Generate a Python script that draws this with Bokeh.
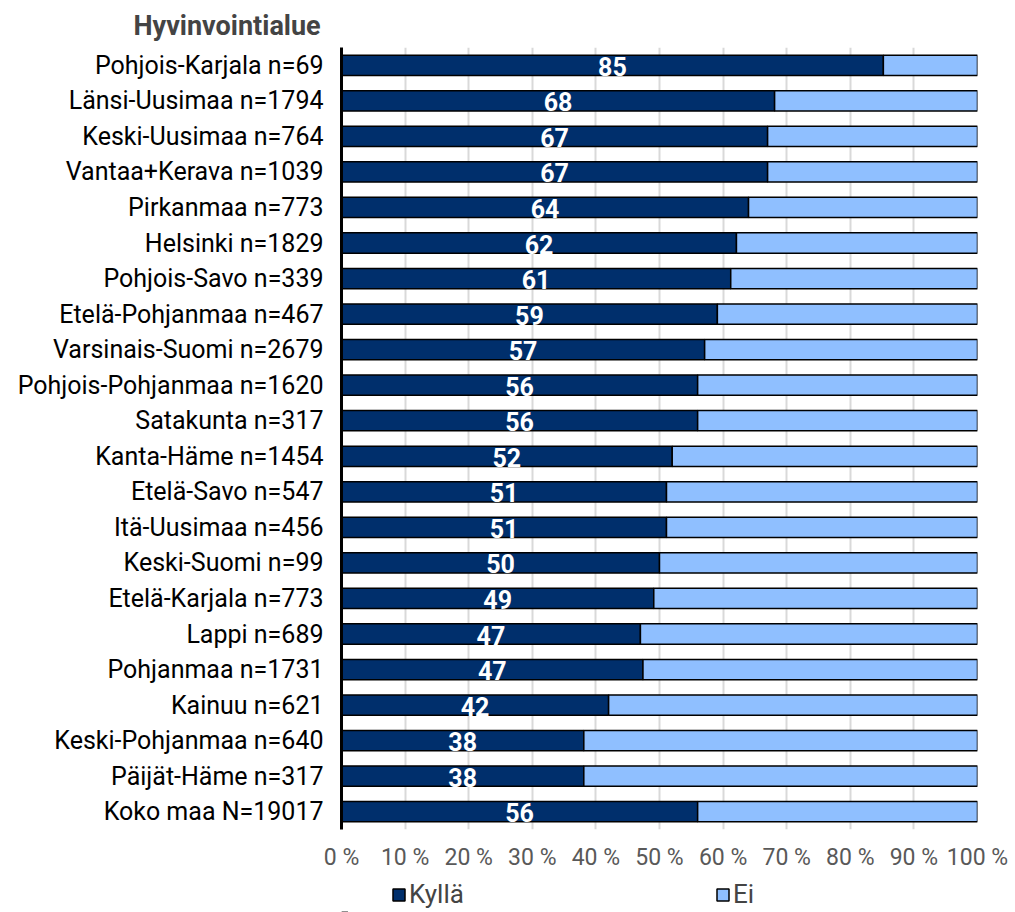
from bokeh.plotting import figure
from bokeh.layouts import column
from bokeh.models import ColumnDataSource, FactorRange, FixedTicker, Legend, LegendItem
from bokeh.core.properties import value
from bokeh.embed import file_html
from bokeh.resources import INLINE

cats = ["Pohjois-Karjala n=69", "Länsi-Uusimaa n=1794", "Keski-Uusimaa n=764",
        "Vantaa+Kerava n=1039", "Pirkanmaa n=773", "Helsinki n=1829",
        "Pohjois-Savo n=339", "Etelä-Pohjanmaa n=467", "Varsinais-Suomi n=2679",
        "Pohjois-Pohjanmaa n=1620", "Satakunta n=317", "Kanta-Häme n=1454",
        "Etelä-Savo n=547", "Itä-Uusimaa n=456", "Keski-Suomi n=99",
        "Etelä-Karjala n=773", "Lappi n=689", "Pohjanmaa n=1731", "Kainuu n=621",
        "Keski-Pohjanmaa n=640", "Päijät-Häme n=317", "Koko maa N=19017"]
kylla = [85.2, 68.1, 67.0, 67.0, 64.0, 62.1, 61.2, 59.1, 57.1, 56.0, 56.0, 52.0,
         51.1, 51.1, 50.0, 49.1, 47.0, 47.4, 42.0, 38.1, 38.1, 56.0]
ei = [14.8, 31.9, 33.0, 33.0, 36.0, 37.9, 38.8, 40.9, 42.9, 44.0, 44.0, 48.0,
      48.9, 48.9, 50.0, 50.9, 53.0, 52.6, 58.0, 61.9, 61.9, 44.0]
series = ["Kyllä", "Ei"]
colors = ["#002f6c", "#8fbfff"]
x_ticks = [0, 10, 20, 30, 40, 50, 60, 70, 80, 90, 100]
x_tick_labels = ["0 %", "10 %", "20 %", "30 %", "40 %", "50 %", "60 %", "70 %", "80 %", "90 %", "100 %"]
title_text = "Hyvinvointialue"

FONT = "Roboto"

src = ColumnDataSource(dict(
    cat=cats, kylla=kylla, ei=ei,
    mid=[v / 2 for v in kylla],
    lab=[str(int(round(v))) for v in kylla],
))

p = figure(width=1011, height=873,
           y_range=FactorRange(factors=cats[::-1]), x_range=(0, 100),
           output_backend="svg", toolbar_location=None,
           min_border_left=341, min_border_right=34,
           min_border_top=47, min_border_bottom=43)

rs = p.hbar_stack(["kylla", "ei"], y="cat", height=0.57, source=src,
                  color=colors, line_color="black", line_width=1.5)
for r, c in zip(rs, colors):
    r.glyph.fill_color = c
    r.glyph.line_color = "black"

p.text(x="mid", y="cat", text="lab", source=src, text_color="white",
       text_font=value(FONT), text_font_style="bold", text_font_size="25px",
       text_align="center", text_baseline="middle", y_offset=1)

p.title.text = title_text
p.title.align = "left"
p.title.offset = -208
p.title.standoff = 11
p.title.text_font = FONT
p.title.text_font_size = "27px"
p.title.text_font_style = "bold"

p.outline_line_color = None
p.ygrid.grid_line_color = None
p.xgrid.grid_line_color = "#d9d9d9"
p.xgrid.grid_line_width = 2
p.xaxis.ticker = FixedTicker(ticks=x_ticks)
p.xaxis.major_label_overrides = {t: l for t, l in zip(x_ticks, x_tick_labels)}
p.xaxis.axis_line_color = None
p.xaxis.major_tick_line_color = None
p.xaxis.minor_tick_line_color = None
p.xaxis.major_label_text_font = FONT
p.xaxis.major_label_text_font_size = "23px"
p.xaxis.major_label_text_color = "#595959"
p.xaxis.major_label_standoff = 8

p.yaxis.axis_line_color = "black"
p.yaxis.axis_line_width = 3
p.yaxis.major_tick_line_color = None
p.yaxis.minor_tick_line_color = None
p.yaxis.major_label_text_font = FONT
p.yaxis.major_label_text_font_size = "25px"
p.yaxis.major_label_text_color = "black"
p.yaxis.major_label_standoff = 12

# legend strip below the chart
p2 = figure(width=1011, height=39, x_range=(0, 100), y_range=(0, 1),
            x_axis_type=None, y_axis_type=None,
            output_backend="svg", toolbar_location=None,
            min_border_left=341, min_border_right=34,
            min_border_top=0, min_border_bottom=0)
p2.outline_line_color = None
p2.xgrid.grid_line_color = None
p2.ygrid.grid_line_color = None
dummy = ColumnDataSource(dict(y=[-1.0], l=[0.0], r=[1.0]))
leg_rs = [p2.hbar(y="y", left="l", right="r", height=0.5, source=dummy,
                  fill_color=c, line_color="black", line_width=1.5) for c in colors]

legend = Legend(items=[LegendItem(label=s, renderers=[r]) for s, r in zip(series, leg_rs)],
                orientation="horizontal", location=(50, 3),
                spacing=110, label_width=196,
                glyph_width=15, glyph_height=15, label_standoff=3,
                label_text_font=FONT, label_text_font_size="26px",
                label_height=24, border_line_color=None,
                background_fill_alpha=0, padding=0, margin=0)
p2.add_layout(legend, "center")

open("out.html", "w").write(file_html(column(p, p2), INLINE))
